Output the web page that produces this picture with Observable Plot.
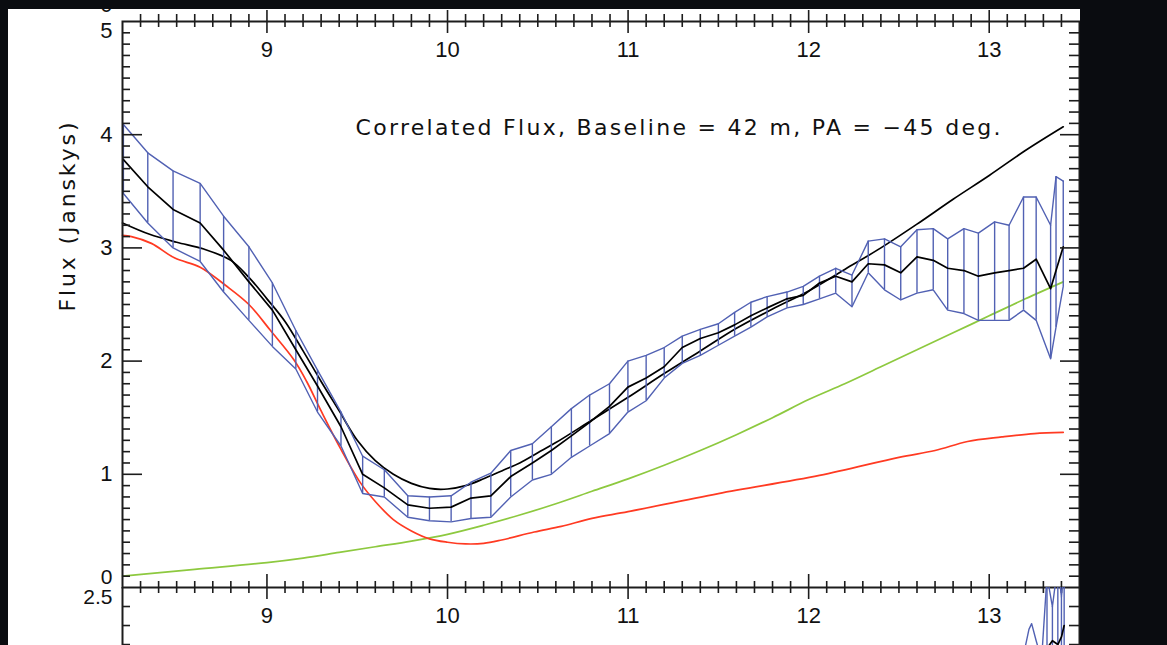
<!DOCTYPE html>
<html><head><meta charset="utf-8">
<script src="https://cdn.jsdelivr.net/npm/d3@7"></script>
<script src="https://cdn.jsdelivr.net/npm/@observablehq/plot@0.6"></script>
<style>
body{margin:0;background:#0a0c10;width:1167px;height:645px;overflow:hidden;}
#wrap{position:relative;width:1167px;height:645px;}
#p1{position:absolute;left:8px;top:9px;}
#p2{position:absolute;left:8px;top:575px;}
</style></head><body><div id="wrap"><div id="p1"></div><div id="p2"></div></div>
<script>
// ---- measured data (upper panel) ----
const lam    = [8.205,8.34,8.48,8.63,8.76,8.90,9.03,9.16,9.28,9.41,9.53,9.65,9.78,9.90,10.02,10.13,10.24,10.35,10.47,10.575,10.686,10.787,10.897,10.999,11.10,11.20,11.30,11.40,11.50,11.59,11.68,11.77,11.88,11.97,12.06,12.15,12.24,12.33,12.42,12.51,12.60,12.69,12.77,12.86,12.94,13.03,13.11,13.19,13.26,13.34,13.37,13.41];
const flux   = [3.78,3.54,3.34,3.22,2.98,2.70,2.45,2.10,1.78,1.42,1.00,0.88,0.73,0.70,0.71,0.79,0.81,0.98,1.10,1.21,1.34,1.46,1.60,1.77,1.85,1.95,2.12,2.20,2.25,2.32,2.40,2.47,2.55,2.58,2.69,2.75,2.70,2.86,2.85,2.78,2.92,2.89,2.82,2.80,2.75,2.78,2.80,2.82,2.90,2.64,2.80,3.01];
const fluxLo = [3.48,3.22,3.00,2.88,2.61,2.36,2.13,1.93,1.55,1.25,0.83,0.80,0.62,0.59,0.58,0.61,0.62,0.80,0.95,1.00,1.15,1.25,1.36,1.55,1.65,1.85,1.98,2.05,2.14,2.22,2.30,2.39,2.47,2.50,2.55,2.60,2.48,2.78,2.63,2.54,2.60,2.63,2.45,2.42,2.36,2.36,2.36,2.45,2.36,2.02,2.30,2.66];
const fluxHi = [4.09,3.84,3.68,3.57,3.28,3.01,2.69,2.27,1.92,1.55,1.16,1.04,0.81,0.80,0.81,0.93,1.01,1.21,1.27,1.42,1.58,1.70,1.80,2.00,2.05,2.12,2.22,2.28,2.33,2.43,2.52,2.57,2.61,2.66,2.75,2.82,2.76,3.06,3.08,3.01,3.16,3.17,3.08,3.17,3.13,3.23,3.20,3.45,3.45,3.20,3.63,3.59];

// ---- model curves ----
const modelLam  = [8.2,8.35,8.5,8.65,8.8,8.9,9.0,9.1,9.2,9.3,9.4,9.5,9.6,9.7,9.8,9.9,10.0,10.1,10.2,10.3,10.4,10.5,10.6,10.8,11.0,11.2,11.4,11.6,11.8,12.0,12.2,12.4,12.6,12.8,13.0,13.2,13.41];
const modelFlux = [3.22,3.12,3.05,2.99,2.89,2.74,2.55,2.35,2.09,1.82,1.56,1.30,1.12,1.00,0.92,0.875,0.87,0.90,0.96,1.03,1.10,1.19,1.28,1.48,1.68,1.89,2.09,2.29,2.46,2.62,2.81,3.00,3.21,3.43,3.64,3.86,4.07];
const redLam  = [8.2,8.25,8.36,8.49,8.63,8.77,8.90,9.02,9.15,9.22,9.30,9.41,9.52,9.60,9.70,9.80,9.90,10.0,10.1,10.2,10.3,10.48,10.63,10.8,11.0,11.5,12.06,12.5,12.7,12.88,13.07,13.25,13.41];
const redFlux = [3.11,3.10,3.04,2.91,2.83,2.67,2.50,2.27,2.01,1.82,1.56,1.22,0.92,0.76,0.60,0.50,0.43,0.40,0.385,0.39,0.42,0.49,0.54,0.61,0.67,0.83,0.99,1.15,1.21,1.29,1.33,1.36,1.37];
const greenLam  = [8.2,8.6,9.0,9.2,9.4,9.6,9.8,10.0,10.2,10.4,10.6,10.8,11.0,11.2,11.4,11.6,11.8,12.0,12.2,12.4,12.6,12.8,13.0,13.2,13.41];
const greenFlux = [0.10,0.16,0.22,0.26,0.31,0.36,0.41,0.47,0.55,0.64,0.74,0.85,0.96,1.08,1.21,1.35,1.50,1.66,1.80,1.95,2.10,2.25,2.40,2.55,2.70];

// ---- lower panel (only its top edge is visible) ----
const lam2  = [13.18,13.22,13.235,13.26,13.29,13.32,13.35,13.38,13.40,13.415];
const hi2   = [2.10,2.28,2.31,2.22,2.12,2.56,2.40,2.62,2.45,2.60];
const lo2   = [1.90,2.05,2.10,2.00,1.90,2.00,1.95,2.05,2.00,2.10];
const flux2 = [2.00,2.12,2.15,2.10,2.00,2.18,2.22,2.20,2.24,2.30];

// ---- texts / tick labels ----
const xTickLabels = [9,10,11,12,13];
const yTickLabels = [1,2,3,4];
const yTopLabel = 5, yBottomLabel = 0;
const lowerTopLabel = "2.5";
const lowerYTicks = [2.4,2.3,2.2];
const title = "Correlated Flux, Baseline = 42 m, PA = \u221245 deg.";
const yLabel = "Flux (Janskys)";

const blue = "#5161b3", red = "#ff3a22", green = "#8dc93f", axisColor = "#1c1c1c";
const font = "'Liberation Sans', Arial, sans-serif";
const font2 = "'DejaVu Sans', sans-serif";

const W = 1072, H1 = 636, mL = 114, mR = 1, mT = 12, mB = 58;
const innerW = W - mL - mR, innerH = H1 - mT - mB;
const xMinor = d3.range(83, 135).map(i => i / 10).filter(v => Math.abs(v - Math.round(v)) > 1e-9);
const yMinor = d3.range(1, 50).map(i => i / 10).filter(v => Math.abs(v - Math.round(v)) > 1e-9);

const data = lam.map((l, i) => ({lam: l, flux: flux[i], lo: fluxLo[i], hi: fluxHi[i]}));
const model = modelLam.map((l, i) => ({lam: l, v: modelFlux[i]}));
const redS = redLam.map((l, i) => ({lam: l, v: redFlux[i]}));
const greenS = greenLam.map((l, i) => ({lam: l, v: greenFlux[i]}));
const data2 = lam2.map((l, i) => ({lam: l, flux: flux2[i], lo: lo2[i], hi: hi2[i]}));

const tk = {stroke: axisColor, strokeWidth: 1.6};
const txt = {fill: "#111", fontSize: 22, fontFamily: font, lineAnchor: "middle"};

const p1 = Plot.plot({
  width: W, height: H1, marginLeft: mL, marginRight: mR, marginTop: mT, marginBottom: mB,
  style: {background: "white", fontFamily: font, color: "#111"},
  x: {domain: [8.2, 13.5], axis: null},
  y: {domain: [0, 5], axis: null},
  marks: [
    Plot.line(greenS, {x: "lam", y: "v", stroke: green, strokeWidth: 1.7, curve: "catmull-rom"}),
    Plot.line(redS, {x: "lam", y: "v", stroke: red, strokeWidth: 1.7, curve: "catmull-rom"}),
    Plot.line(model, {x: "lam", y: "v", stroke: "#000", strokeWidth: 1.7, curve: "catmull-rom"}),
    Plot.ruleX(data, {x: "lam", y1: "lo", y2: "hi", stroke: blue, strokeWidth: 1.4}),
    Plot.line(data, {x: "lam", y: "hi", stroke: blue, strokeWidth: 1.4}),
    Plot.line(data, {x: "lam", y: "lo", stroke: blue, strokeWidth: 1.4}),
    Plot.line(data, {x: "lam", y: "flux", stroke: "#000", strokeWidth: 1.7}),
    // top axis ticks (cross the line)
    Plot.ruleX(xMinor, {...tk, insetTop: -7, insetBottom: innerH - 6}),
    Plot.ruleX(xTickLabels, {...tk, insetTop: -11, insetBottom: innerH - 12}),
    // bottom axis ticks (cross the line)
    Plot.ruleX(xMinor, {...tk, insetTop: innerH - 6, insetBottom: -6}),
    Plot.ruleX(xTickLabels, {...tk, insetTop: innerH - 13, insetBottom: -12}),
    // left / right ticks
    Plot.ruleY(yMinor, {...tk, insetRight: innerW - 8}),
    Plot.ruleY(yTickLabels, {...tk, insetRight: innerW - 20}),
    Plot.ruleY(yMinor, {...tk, insetLeft: innerW - 10}),
    Plot.ruleY(yTickLabels, {...tk, insetLeft: innerW - 19}),
    Plot.frame({stroke: axisColor, strokeWidth: 2}),
    // tick labels
    Plot.text(xTickLabels, {...txt, x: d => d, text: d => String(d), frameAnchor: "top", dy: 28}),
    Plot.text(yTickLabels, {...txt, y: d => d, text: d => String(d), frameAnchor: "left", dx: -10, textAnchor: "end"}),
    Plot.text([yTopLabel], {...txt, y: d => d, text: d => String(d), frameAnchor: "left", dx: -10, dy: 9, textAnchor: "end"}),
    Plot.text([yBottomLabel], {...txt, fontSize: 21, y: d => d, text: d => String(d), frameAnchor: "left", dx: -10, dy: -10, textAnchor: "end"}),
    Plot.text([yBottomLabel], {...txt, text: d => String(d), frameAnchor: "top-left", dx: -10, dy: -17, textAnchor: "end"}),
    Plot.text([title], {...txt, fontFamily: font2, fontSize: 22, frameAnchor: "top-left", dx: 233, dy: 106, textAnchor: "start"}),
    Plot.text([yLabel], {...txt, fontFamily: font2, fontSize: 22, frameAnchor: "left", dx: -55, dy: 7, rotate: -90})
  ]
});
document.getElementById("p1").appendChild(p1);

// lower panel: SVG begins 12px above its top axis so its top label is not clipped
const mT2 = 12, H2 = 70;
const p2 = Plot.plot({
  width: W, height: H2, marginLeft: mL, marginRight: mR, marginTop: mT2, marginBottom: 0,
  style: {background: "transparent", fontFamily: font, color: "#111"},
  x: {domain: [8.2, 13.5], axis: null},
  y: {domain: [2.195, 2.5], axis: null},
  marks: [
    Plot.ruleX(data2.filter(d => d.hi > 2.35), {x: "lam", y1: "lo", y2: "hi", stroke: blue, strokeWidth: 1.4, clip: true}),
    Plot.line(data2, {x: "lam", y: "hi", stroke: blue, strokeWidth: 1.4, clip: true}),
    Plot.line(data2, {x: "lam", y: "lo", stroke: blue, strokeWidth: 1.4, clip: true}),
    Plot.line(data2, {x: "lam", y: "flux", stroke: "#000", strokeWidth: 1.7, clip: true}),
    Plot.ruleX([8.2, 13.5], {stroke: axisColor, strokeWidth: 2}),
    Plot.ruleY(lowerYTicks, {...tk, insetRight: innerW - 8}),
    Plot.ruleY(lowerYTicks, {...tk, insetLeft: innerW - 10}),
    Plot.text(xTickLabels, {...txt, x: d => d, text: d => String(d), frameAnchor: "top", dy: 28.5}),
    Plot.text([lowerTopLabel], {...txt, fontSize: 21, frameAnchor: "top-left", dx: -10, dy: 10, textAnchor: "end"})
  ]
});
document.getElementById("p2").appendChild(p2);

d3.select(p1).selectAll("text").filter(function() { return this.textContent === title; })
  .attr("textLength", 645).attr("lengthAdjust", "spacing");
d3.select(p1).selectAll("text").filter(function() { return this.textContent === yLabel; })
  .attr("textLength", 189).attr("lengthAdjust", "spacing");
</script>
</body></html>
